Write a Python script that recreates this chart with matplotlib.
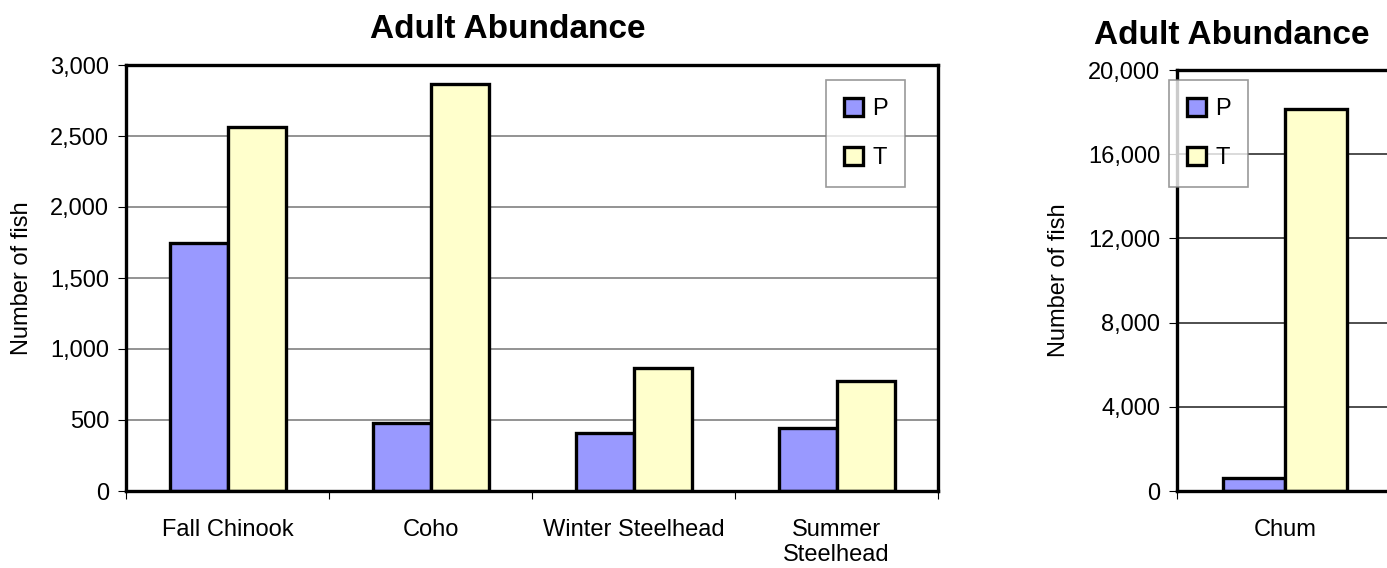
import matplotlib.pyplot as plt
import matplotlib.patches as mpatches
import numpy as np

plt.rcParams['font.family'] = ['Liberation Sans', 'DejaVu Sans']

# data
species = ['Fall Chinook', 'Coho', 'Winter Steelhead', 'Summer\nSteelhead']
p_fish = [1747, 476, 409, 445]
t_fish = [2560, 2864, 869, 774]

chum_label = ['Chum']
chum_p = [640]
chum_t = [18130]

left_ticks = [0, 500, 1000, 1500, 2000, 2500, 3000]
right_ticks = [0, 4000, 8000, 12000, 16000, 20000]

P_COLOR = '#9999FF'
T_COLOR = '#FFFFCC'
FS = 17

fig = plt.figure(figsize=(13.87, 5.68), dpi=100)


def draw_panel(ax, cats, p, t, ticks, grid_color):
    n = len(cats)
    x = np.arange(n)
    w = 1 / 3.5
    ax.bar(x - w / 2, p, width=w, color=P_COLOR, edgecolor='black', linewidth=2.4, zorder=3)
    ax.bar(x + w / 2, t, width=w, color=T_COLOR, edgecolor='black', linewidth=2.4, zorder=3)
    ax.set_xlim(-0.5, n - 0.5)
    ax.set_ylim(ticks[0], ticks[-1])
    ax.set_yticks(ticks)
    ax.set_yticklabels([f'{v:,}' for v in ticks], fontsize=FS)
    ax.set_xticks(x)
    ax.set_xticklabels(cats, fontsize=FS, linespacing=1.2)
    ax.set_xticks(np.arange(n + 1) - 0.5, minor=True)
    ax.tick_params(axis='x', which='major', length=0, pad=20)
    ax.tick_params(axis='x', which='minor', length=6, width=0.8, direction='out')
    ax.tick_params(axis='y', length=6, width=0.8, direction='out', pad=6)
    for v in ticks[1:-1]:
        ax.axhline(v, color=grid_color, linewidth=1.2, zorder=1)
    for s in ax.spines.values():
        s.set_linewidth(2.4)
        s.set_zorder(4)
    ax.set_ylabel('Number of fish', fontsize=FS)


# main panel
ax1 = fig.add_axes([126 / 1387, 1 - 491 / 568, 812 / 1387, 426 / 568])
draw_panel(ax1, species, p_fish, t_fish, left_ticks, '#808080')
ax1.yaxis.set_label_coords(-0.115, 0.5)
fig.text(508 / 1387, 1 - 30 / 568, 'Adult Abundance', fontsize=24, fontweight='bold',
         ha='center', va='center')

# chum panel (runs off the right edge like the original)
ax2 = fig.add_axes([1177 / 1387, 1 - 491 / 568, 216 / 1387, 421 / 568])
draw_panel(ax2, chum_label, chum_p, chum_t, right_ticks, '#303030')
ax2.yaxis.set_label_coords(-0.495, 0.5)
fig.text(1232 / 1387, 1 - 36 / 568, 'Adult Abundance', fontsize=24, fontweight='bold',
         ha='center', va='center')

handles = [mpatches.Patch(facecolor=P_COLOR, edgecolor='black', linewidth=2.4, label='P'),
           mpatches.Patch(facecolor=T_COLOR, edgecolor='black', linewidth=2.4, label='T')]
for ax, (lx, ly) in [(ax1, (826, 80)), (ax2, (1169, 80))]:
    leg = fig.legend(handles=handles, loc='upper left', bbox_to_anchor=(lx / 1387, 1 - ly / 568),
                     fontsize=FS, frameon=True, fancybox=False, edgecolor='#808080',
                     handlelength=0.8, handleheight=0.8, handletextpad=0.4,
                     labelspacing=1.15, borderpad=0.75, borderaxespad=0)
    leg.get_frame().set_linewidth(1.2)
    leg.set_zorder(10)

fig.savefig('out.png', dpi=100)
